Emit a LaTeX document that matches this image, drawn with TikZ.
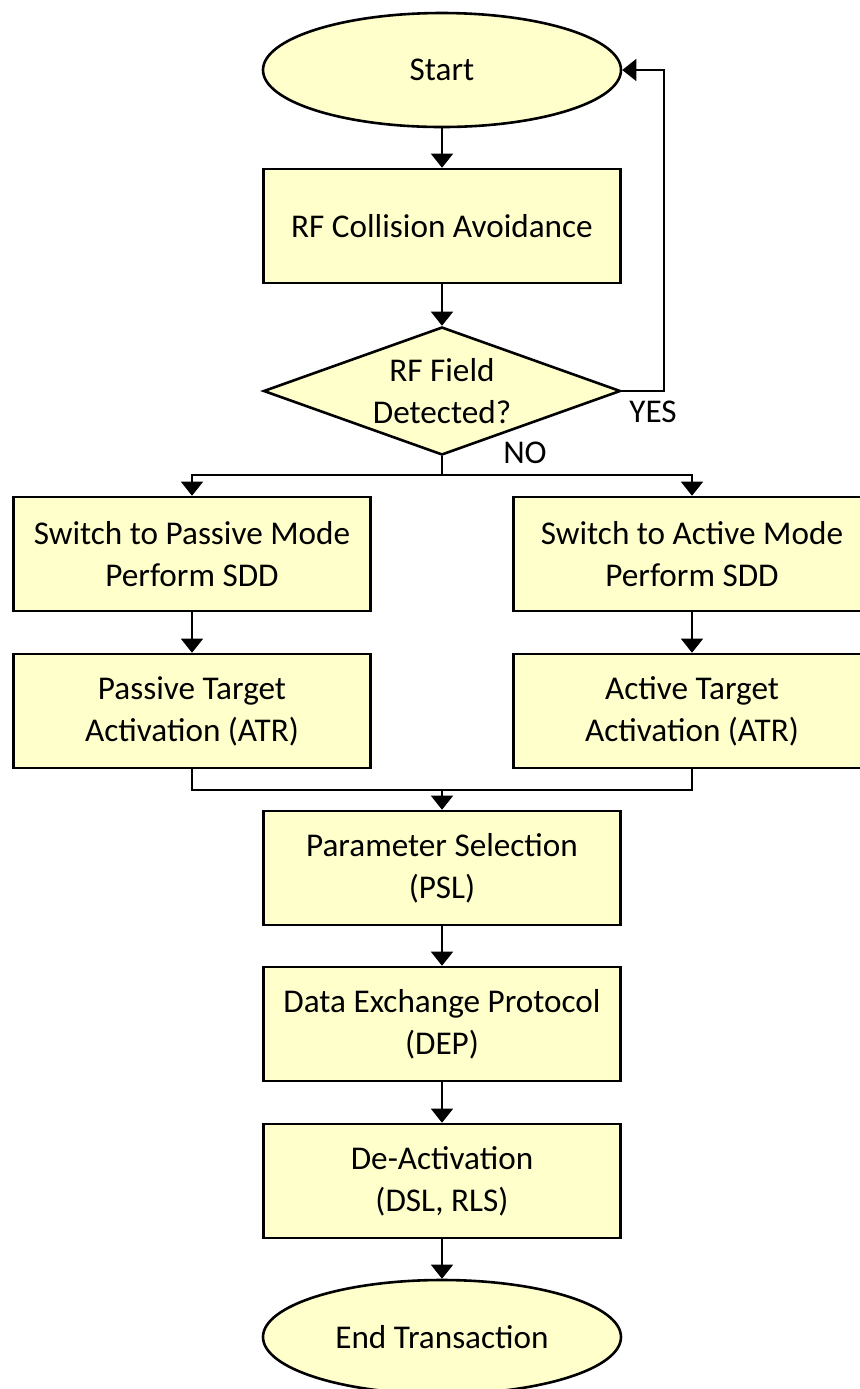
\documentclass[tikz,border=0pt]{standalone}
\usepackage{fontspec}
\setmainfont{Carlito}
\usetikzlibrary{shapes.geometric,arrows.meta}
\definecolor{boxfill}{HTML}{FFFFCC}
\begin{document}
\begin{tikzpicture}[x=0.5pt,y=-0.5pt,
  font=\fontsize{16.6}{21}\selectfont,
  box/.style={draw, line width=1.3pt, fill=boxfill, minimum width=178.5pt, minimum height=57pt, inner sep=0pt, align=center},
  term/.style={ellipse, draw, line width=1.3pt, fill=boxfill, minimum width=179pt, minimum height=57pt, inner sep=0pt},
  conn/.style={line width=0.75pt},
  arr/.style={conn, -{Triangle[width=11pt,length=7pt]}}]
\useasboundingbox (0,0) rectangle (859,1389);
\node[term] (start) at (442,70) {Start};
\node[box] (rf) at (442,226) {RF Collision Avoidance};
\node[diamond, draw, line width=1.3pt, fill=boxfill, minimum width=178.5pt, minimum height=64pt, inner sep=0pt,
  label={[align=center]center:RF Field\\Detected?}] (dia) at (442,391) {};
\node[box] (p1) at (192,554) {Switch to Passive Mode\\Perform SDD};
\node[box] (p2) at (192,711) {Passive Target\\Activation (ATR)};
\node[box] (a1) at (692,554) {Switch to Active Mode\\Perform SDD};
\node[box] (a2) at (692,711) {Active Target\\Activation (ATR)};
\node[box] (psl) at (442,868) {Parameter Selection\\(PSL)};
\node[box] (dep) at (442,1024) {Data Exchange Protocol\\(DEP)};
\node[box] (deact) at (442,1181) {De-Activation\\(DSL, RLS)};
\node[term] (end) at (442,1337) {End Transaction};
\node (yes) at (653,412) {YES};
\node (no) at (525,453) {NO};
\coordinate (split) at (442,475);
\coordinate (merge) at (442,790);
\coordinate (loop) at (664,70);
\draw[arr] (start) -- (rf);
\draw[arr] (rf) -- (dia);
\draw[conn] (dia.south) -- (split);
\draw[arr] (split) -| (p1.north);
\draw[arr] (split) -| (a1.north);
\draw[arr] (p1) -- (p2);
\draw[arr] (a1) -- (a2);
\draw[conn] (p2.south) |- (merge);
\draw[conn] (a2.south) |- (merge);
\draw[arr] (merge) -- (psl);
\draw[arr] (psl) -- (dep);
\draw[arr] (dep) -- (deact);
\draw[arr] (deact) -- (end);
\draw[arr] (dia.east) -| (loop) -- (start.east);
\end{tikzpicture}
\end{document}
